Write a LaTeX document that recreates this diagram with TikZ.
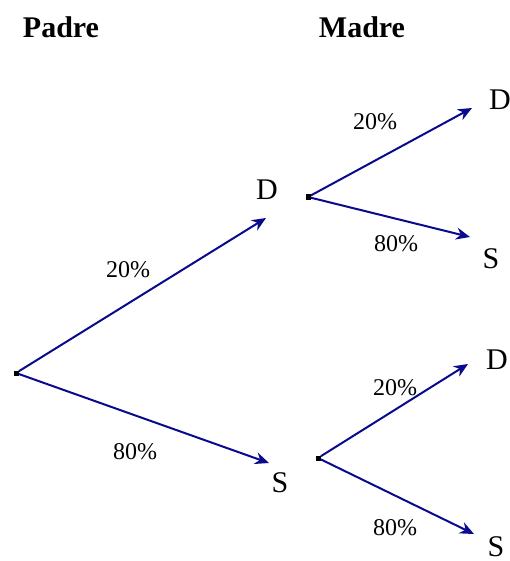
\documentclass[tikz,border=0pt]{standalone}
\usepackage{fontspec}
\setmainfont{Liberation Serif}
\usepackage{tikz}
\usetikzlibrary{arrows.meta}
\definecolor{treeblue}{RGB}{10,10,140}

\begin{document}
\begin{tikzpicture}[x=0.5pt,y=-0.5pt,>={Stealth[length=7pt,width=6pt]},
  knot/.style={fill=black,inner sep=0pt,minimum size=2.5pt},
  branch/.style={->,treeblue,line width=1pt},
  leaf/.style={font=\fontsize{15}{18}\selectfont},
  pct/.style={font=\fontsize{12}{14}\selectfont},
  head/.style={font=\fontsize{15}{18}\selectfont\bfseries}]
\useasboundingbox (0,0) rectangle (509,561);
\node[head] (padre) at (61,27){Padre};
\node[head] (madre) at (362,27){Madre};
% first generation
\node[knot] (r) at (16,373){};
\coordinate (tD) at (266,218);
\coordinate (tS) at (269,463);
\node[leaf] (D) at (267,190){D};
\node[leaf] (S) at (280,483){S};
\draw[branch] (r)--(tD);
\draw[branch] (r)--(tS);
\node[pct] at (128,270){20\%};
\node[pct] at (135,452){80\%};
% second generation, after D
\node[knot] (kD) at (308,197){};
\coordinate (tDD) at (472,108);
\coordinate (tDS) at (470,237);
\node[leaf] (DD) at (500,100){D};
\node[leaf] (DS) at (491,259){S};
\draw[branch] (kD)--(tDD);
\draw[branch] (kD)--(tDS);
\node[pct] at (375,122){20\%};
\node[pct] at (396,244){80\%};
% second generation, after S
\node[knot] (kS) at (318,458){};
\coordinate (tSD) at (468,364);
\coordinate (tSS) at (474,534);
\node[leaf] (SD) at (497,360){D};
\node[leaf] (SS) at (496,547){S};
\draw[branch] (kS)--(tSD);
\draw[branch] (kS)--(tSS);
\node[pct] at (395,388){20\%};
\node[pct] at (395,528){80\%};
\end{tikzpicture}
\end{document}
